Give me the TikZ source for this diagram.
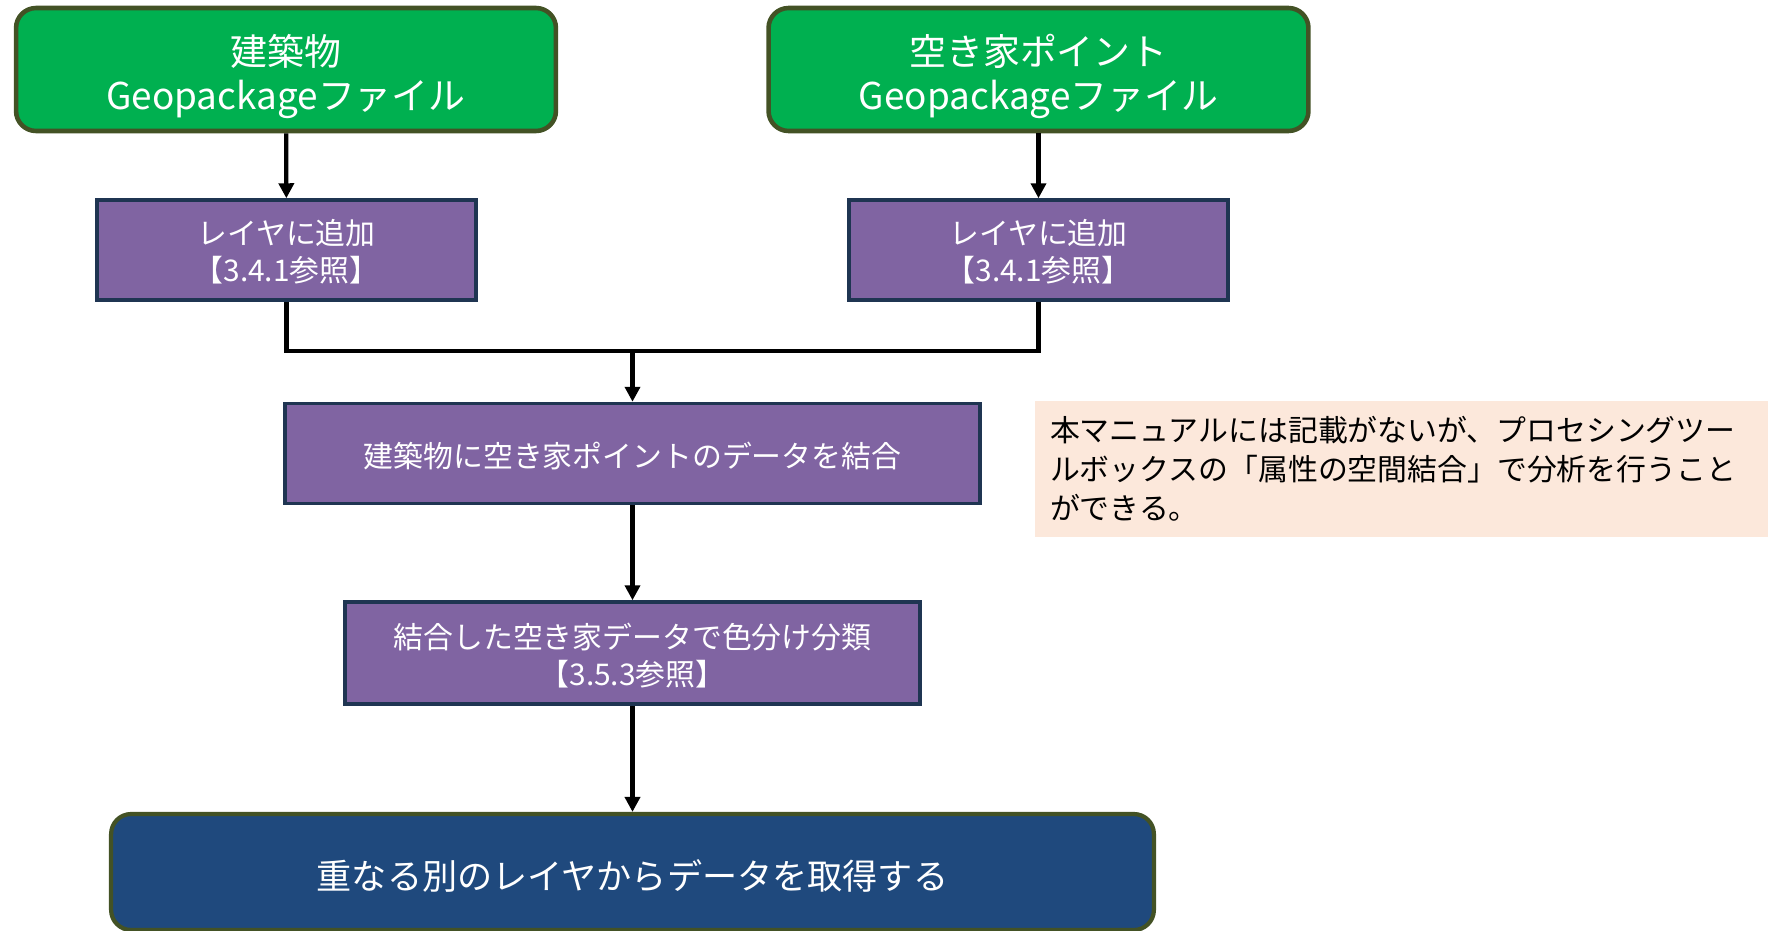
\documentclass[tikz,border=0pt]{standalone}
\usepackage{fontspec}
\setmainfont{Noto Sans CJK JP}
\usetikzlibrary{arrows.meta}

\definecolor{srcgreen}{HTML}{00B050}
\definecolor{olivedark}{HTML}{435225}
\definecolor{steppurple}{HTML}{8064A2}
\definecolor{navyline}{HTML}{1F3552}
\definecolor{goalblue}{HTML}{1F497D}
\definecolor{notepeach}{HTML}{FCE8DB}

% Text etwas tiefer setzen
\newcommand{\lowertext}[2]{\raisebox{-#1}[\height][\depth]{\begin{tabular}{@{}c@{}}#2\end{tabular}}}

\tikzset{
  srcbox/.style={draw=olivedark, line width=2.6pt, fill=srcgreen, rounded corners=0.4cm,
    minimum width=10.8cm, minimum height=2.46cm, inner ysep=0pt, text=white,
    font=\fontsize{21}{25.6}\selectfont},
  stepbox/.style={draw=navyline, line width=2pt, fill=steppurple,
    minimum height=2.0cm, inner ysep=0pt, text=white,
    font=\fontsize{17}{21}\selectfont},
  goalbox/.style={draw=olivedark, line width=2.4pt, fill=goalblue, rounded corners=0.4cm,
    minimum width=20.86cm, minimum height=2.32cm, inner ysep=0pt, text=white,
    font=\fontsize{20}{24}\selectfont},
  notebox/.style={fill=notepeach, minimum width=14.66cm, minimum height=2.72cm,
    text width=14.06cm, align=left, inner sep=0.3cm, text=black,
    font=\fontsize{17}{22.2}\selectfont},
  flow/.style={line width=2.4pt, -{Triangle[length=0.3cm, width=0.3cm]}}
}

\begin{document}
\begin{tikzpicture}[x=0.02cm, y=-0.02cm]
  \useasboundingbox (0,0) rectangle (1768,930);

  % Eingabe
  \node[srcbox] (bldg) at (286,69.5) {\lowertext{0.18cm}{建築物\\Geopackageファイル}};
  \node[srcbox] (vacant) at (1038.5,69.5) {\lowertext{0.18cm}{空き家ポイント\\Geopackageファイル}};

  \node[stepbox, minimum width=7.58cm] (addA) at (286.5,250) {\lowertext{0.12cm}{レイヤに追加\\【3.4.1参照】}};
  \node[stepbox, minimum width=7.58cm] (addB) at (1038.5,250) {\lowertext{0.12cm}{レイヤに追加\\【3.4.1参照】}};

  \node[stepbox, minimum width=13.9cm] (join) at (632.5,453.5) {\lowertext{0.13cm}{建築物に空き家ポイントのデータを結合}};
  \node[stepbox, minimum width=11.5cm, minimum height=2.04cm] (classify) at (632.5,653) {\lowertext{0.13cm}{結合した空き家データで色分け分類\\【3.5.3参照】}};

  \node[goalbox] (fetch) at (632.5,872) {\lowertext{0.18cm}{重なる別のレイヤからデータを取得する}};

  \node[notebox] (note) at (1401.5,469) {本マニュアルには記載がないが、プロセシングツー\\ルボックスの「属性の空間結合」で分析を行うこと\\ができる。};

  % Pfeile
  \coordinate (merge) at (632.5,351);
  \draw[flow] (bldg) -- (addA);
  \draw[flow] (vacant) -- (addB);
  \draw[line width=2.4pt] (addA.south) |- (merge) -| (addB.south);
  \draw[flow] (merge) -- (join);
  \draw[flow] (join) -- (classify);
  \draw[flow] (classify) -- (fetch);
\end{tikzpicture}
\end{document}
